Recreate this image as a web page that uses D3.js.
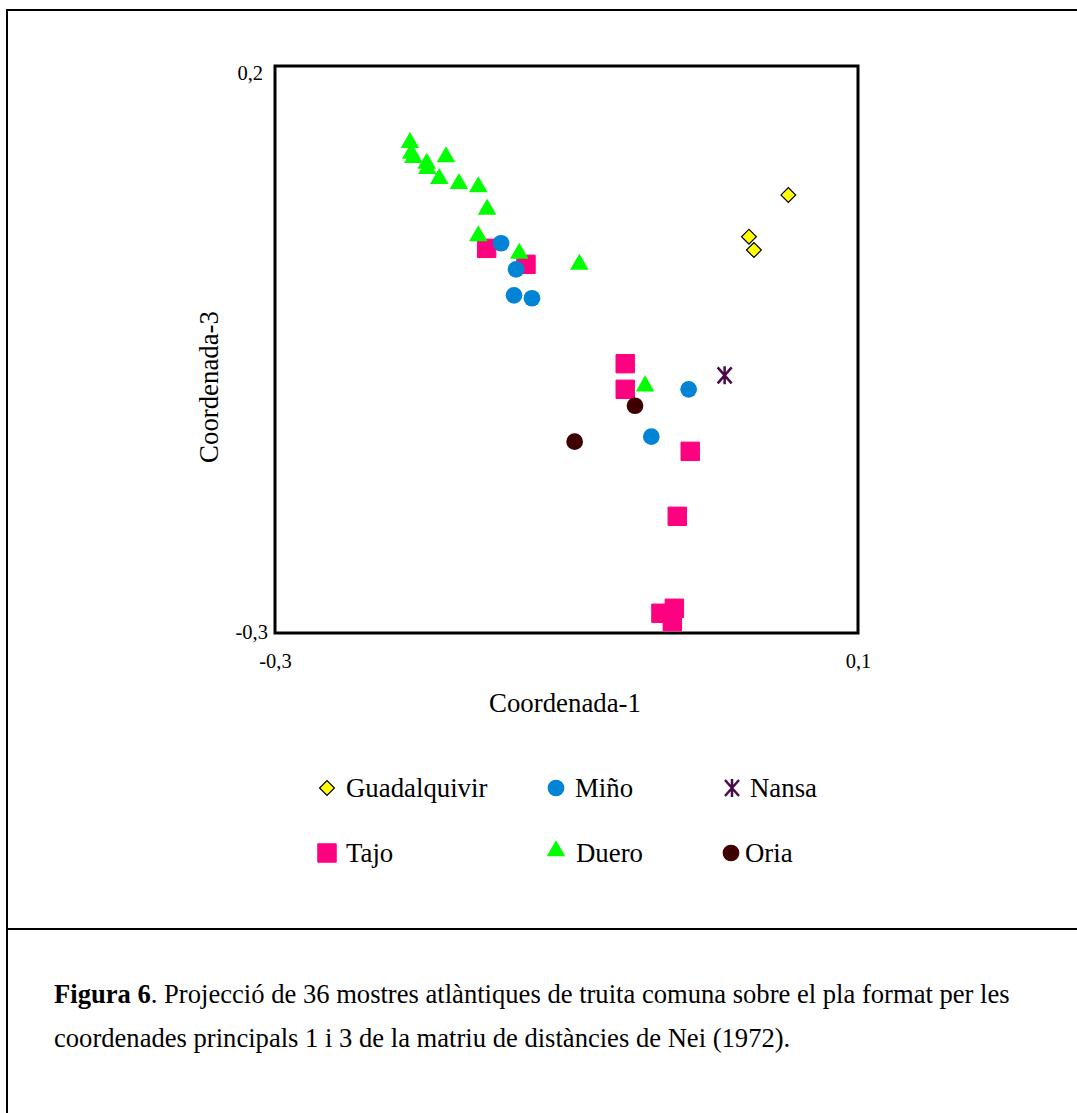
<!DOCTYPE html>
<html>
<head>
<meta charset="utf-8">
<script src="https://cdn.jsdelivr.net/npm/d3@7"></script>
<style>
  html, body { margin: 0; padding: 0; background: #fff; }
  svg { display: block; font-family: "Liberation Serif", "Times New Roman", serif; }
</style>
</head>
<body>
<div id="chart"></div>
<script>
// Coordenades principals (1, 3) llegides de la figura
const guadalquivir = [[0.0522, 0.0862], [0.0252, 0.0495], [0.0286, 0.0377]];
const mino = [[-0.1449, 0.0437], [-0.1346, 0.0207], [-0.1360, -0.0022], [-0.1237, -0.0048],
  [-0.0162, -0.0851], [-0.0418, -0.1269]];
const nansa = [[0.0085, -0.0728]];
const tajo = [[-0.1548, 0.0392], [-0.1278, 0.0251], [-0.0597, -0.0625], [-0.0597, -0.0851],
  [-0.0151, -0.1398], [-0.0240, -0.1971], [-0.0352, -0.2826], [-0.0260, -0.2782], [-0.0274, -0.2900]];
const duero = [[-0.2074, 0.1324], [-0.2065, 0.1229], [-0.2051, 0.1191], [-0.1959, 0.1141],
  [-0.1955, 0.1094], [-0.1827, 0.1198], [-0.1873, 0.1006], [-0.1738, 0.0962], [-0.1605, 0.0933],
  [-0.1545, 0.0735], [-0.1605, 0.0501], [-0.1324, 0.0347], [-0.0912, 0.0250], [-0.0461, -0.0822]];
const oria = [[-0.0530, -0.0996], [-0.0944, -0.1313]];

const xTicks = [-0.3, 0.1];
const yTicks = [-0.3, 0.2];
const fmt = d => String(d).replace(".", ",");

const series = [
  { name: "Guadalquivir", data: guadalquivir, shape: "diamond", color: "#ffff00" },
  { name: "Miño", data: mino, shape: "circle", color: "#0284d6" },
  { name: "Nansa", data: nansa, shape: "star", color: "#4a0a4a" },
  { name: "Tajo", data: tajo, shape: "square", color: "#ff0080" },
  { name: "Duero", data: duero, shape: "triangle", color: "#00ff00" },
  { name: "Oria", data: oria, shape: "circle", color: "#3f0000" }
];

const width = 1077, height = 1113;
const plot = { left: 275, right: 858, top: 66, bottom: 633 };

const svg = d3.select("#chart").append("svg")
  .attr("width", width).attr("height", height);

// marc exterior
svg.append("path")
  .attr("d", `M7,${height} V10 H${width}`)
  .attr("fill", "none").attr("stroke", "#000").attr("stroke-width", 2);
svg.append("line")
  .attr("x1", 7).attr("x2", width).attr("y1", 929).attr("y2", 929)
  .attr("stroke", "#000").attr("stroke-width", 2);

const x = d3.scaleLinear().domain([-0.3, 0.1]).range([plot.left, plot.right]);
const y = d3.scaleLinear().domain([-0.3, 0.2]).range([plot.bottom, plot.top]);

// Eixos
svg.append("g")
  .attr("transform", `translate(0,${plot.bottom})`)
  .call(d3.axisBottom(x).tickValues(xTicks).tickFormat(fmt).tickSize(0).tickPadding(20))
  .call(g => g.select(".domain").remove())
  .call(g => g.selectAll("text").attr("font-size", 20.5).attr("font-family", "Liberation Serif").attr("fill", "#000"));

svg.append("g")
  .attr("transform", `translate(${plot.left},0)`)
  .call(d3.axisLeft(y).tickValues(yTicks).tickFormat(fmt).tickSize(0))
  .call(g => g.select(".domain").remove())
  .call(g => g.selectAll("text")
    .attr("font-size", 20.5).attr("font-family", "Liberation Serif").attr("fill", "#000")
    .attr("x", d => d > 0 ? -12 : -7)
    .attr("dy", d => d > 0 ? "0.65em" : "0.25em"));

svg.append("rect")
  .attr("x", plot.left).attr("y", plot.top)
  .attr("width", plot.right - plot.left).attr("height", plot.bottom - plot.top)
  .attr("fill", "none").attr("stroke", "#000").attr("stroke-width", 3);

svg.append("text")
  .attr("x", 565).attr("y", 712)
  .attr("text-anchor", "middle").attr("font-size", 26.8)
  .text("Coordenada-1");

svg.append("text")
  .attr("transform", "translate(218,387) rotate(-90)")
  .attr("text-anchor", "middle").attr("font-size", 26.8)
  .text("Coordenada-3");

// Simbols
function marker(sel, s) {
  if (s.shape === "star") {
    sel.append("path")
      .attr("d", "M-7,-8 L7,8 M7,-8 L-7,8 M0,-9 V9")
      .attr("stroke", s.color).attr("stroke-width", 2.5).attr("fill", "none");
    return;
  }
  const types = { diamond: d3.symbolSquare, circle: d3.symbolCircle, square: d3.symbolSquare, triangle: d3.symbolTriangle };
  const sizes = { diamond: 110, circle: 220, square: 340, triangle: 150 };
  const p = sel.append("path")
    .attr("d", d3.symbol(types[s.shape], sizes[s.shape])())
    .attr("fill", s.color);
  if (s.shape === "diamond") p.attr("transform", "rotate(45)").attr("stroke", "#000").attr("stroke-width", 1.2);
  if (s.shape === "square") p.attr("stroke", s.color).attr("stroke-width", 1).attr("stroke-linejoin", "round");
}

const order = ["Tajo", "Miño", "Duero", "Oria", "Nansa", "Guadalquivir"];
order.forEach(name => {
  const s = series.find(d => d.name === name);
  svg.append("g").selectAll("g")
    .data(s.data)
    .join("g")
    .attr("transform", d => `translate(${x(d[0])},${y(d[1])})`)
    .each(function() { marker(d3.select(this), s); });
});

// Llegenda
const legendPos = {
  "Guadalquivir": [327, 788, 346], "Miño": [556, 788, 575], "Nansa": [732, 788, 750],
  "Tajo": [327, 853, 346], "Duero": [556, 853, 576], "Oria": [731, 853, 745]
};
series.forEach(s => {
  const [mx, my, tx] = legendPos[s.name];
  const g = svg.append("g").attr("transform", `translate(${mx},${my})`);
  if (s.name === "Duero") g.attr("transform", `translate(${mx},${my - 2})`);
  marker(g, s);
  svg.append("text").attr("x", tx).attr("y", my + 9)
    .attr("font-size", 26.8).text(s.name);
});

// Peu de figura
const cap = svg.append("g").attr("font-size", 26.6);
const t1 = cap.append("text").attr("x", 54).attr("y", 1003);
t1.append("tspan").attr("font-weight", "bold").text("Figura 6");
t1.append("tspan").text(". Projecció de 36 mostres atlàntiques de truita comuna sobre el pla format per les");
cap.append("text").attr("x", 54).attr("y", 1047)
  .text("coordenades principals 1 i 3 de la matriu de distàncies de Nei (1972).");
</script>
</body>
</html>
